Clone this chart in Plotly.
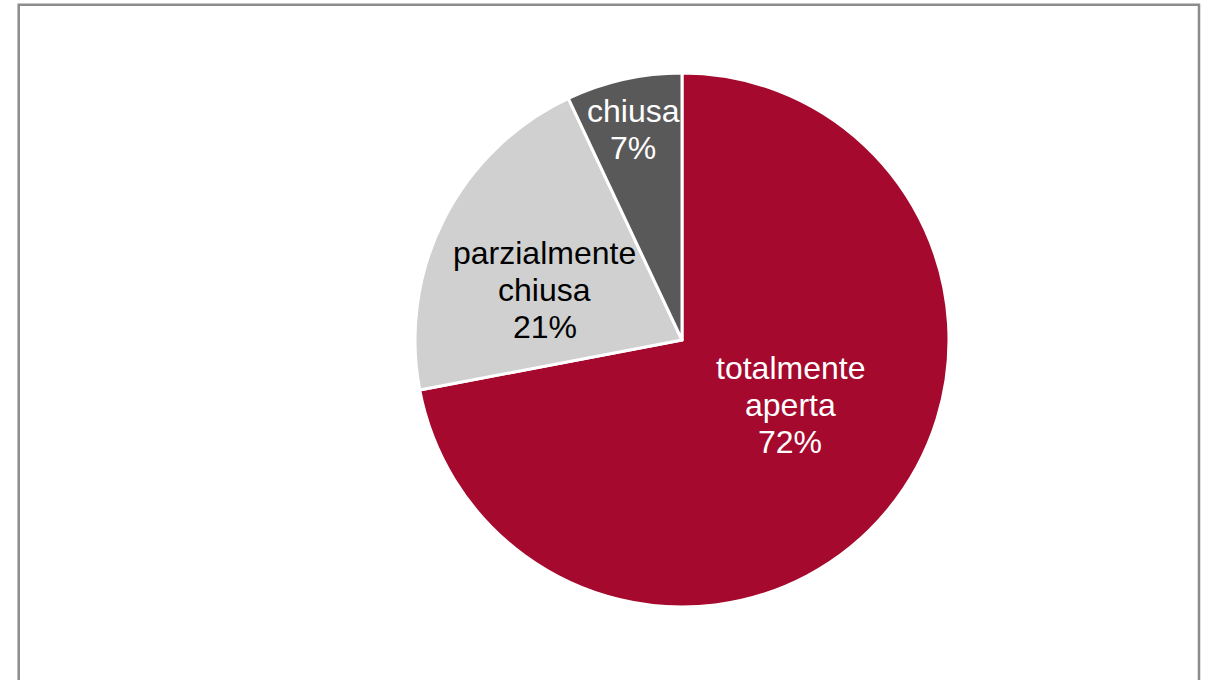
import math
import plotly.graph_objects as go

# Data
labels = ["totalmente aperta", "parzialmente chiusa", "chiusa"]
label_lines = [["totalmente", "aperta"], ["parzialmente", "chiusa"], ["chiusa"]]
values = [72, 21, 7]

colors = ["#A5092D", "#D0D0D0", "#595959"]
text_colors = ["#FFFFFF", "#000000", "#FFFFFF"]
# label placement inside each slice: (radius fraction, angle nudge in degrees)
label_place = [(0.472, -8.6), (0.547, -7.0), (0.809, -0.5)]

W, H = 1209, 680
cx_px, cy_px, r_px = 682, 340, 267

dom_x = [(cx_px - r_px) / W, (cx_px + r_px) / W]
dom_y = [1 - (cy_px + r_px) / H, 1 - (cy_px - r_px) / H]

fig = go.Figure(
    go.Pie(
        labels=labels,
        values=values,
        sort=False,
        direction="clockwise",
        rotation=0,
        marker=dict(colors=colors, line=dict(color="#FFFFFF", width=3)),
        textinfo="none",
        hoverinfo="label+percent",
        showlegend=False,
        domain=dict(x=dom_x, y=dom_y),
    )
)

# Labels placed at each slice's angular position
total = sum(values)
cum = 0.0
font_size = 32
line_gap = 37
annotations = []
for i, v in enumerate(values):
    pct = 100 * v / total
    mid = (cum + v / 2) / total * 360
    cum += v
    frac, nudge = label_place[i]
    ang = math.radians(mid + nudge)
    dx = frac * r_px * math.sin(ang)
    dy = frac * r_px * math.cos(ang)
    ax = (cx_px + dx) / W
    ay = 1 - (cy_px - dy) / H
    lines = label_lines[i] + [f"{pct:.0f}%"]
    n = len(lines)
    for j, line in enumerate(lines):
        annotations.append(
            dict(
                x=ax, y=ay, xref="paper", yref="paper",
                text=line, showarrow=False,
                xanchor="center", yanchor="middle",
                yshift=((n - 1) / 2 - j) * line_gap,
                font=dict(family="Liberation Sans, Arial, sans-serif",
                          size=font_size, color=text_colors[i]),
            )
        )

fig.update_layout(
    width=W,
    height=H,
    margin=dict(l=0, r=0, t=0, b=0),
    paper_bgcolor="#FFFFFF",
    plot_bgcolor="#FFFFFF",
    annotations=annotations,
    shapes=[
        dict(
            type="rect", xref="paper", yref="paper",
            x0=18.7 / W, x1=1199 / W, y0=-0.05, y1=1 - 4.7 / H,
            line=dict(color="#8C8C8C", width=2.5),
            fillcolor="rgba(0,0,0,0)",
        )
    ],
)

fig.write_html("out.html")
